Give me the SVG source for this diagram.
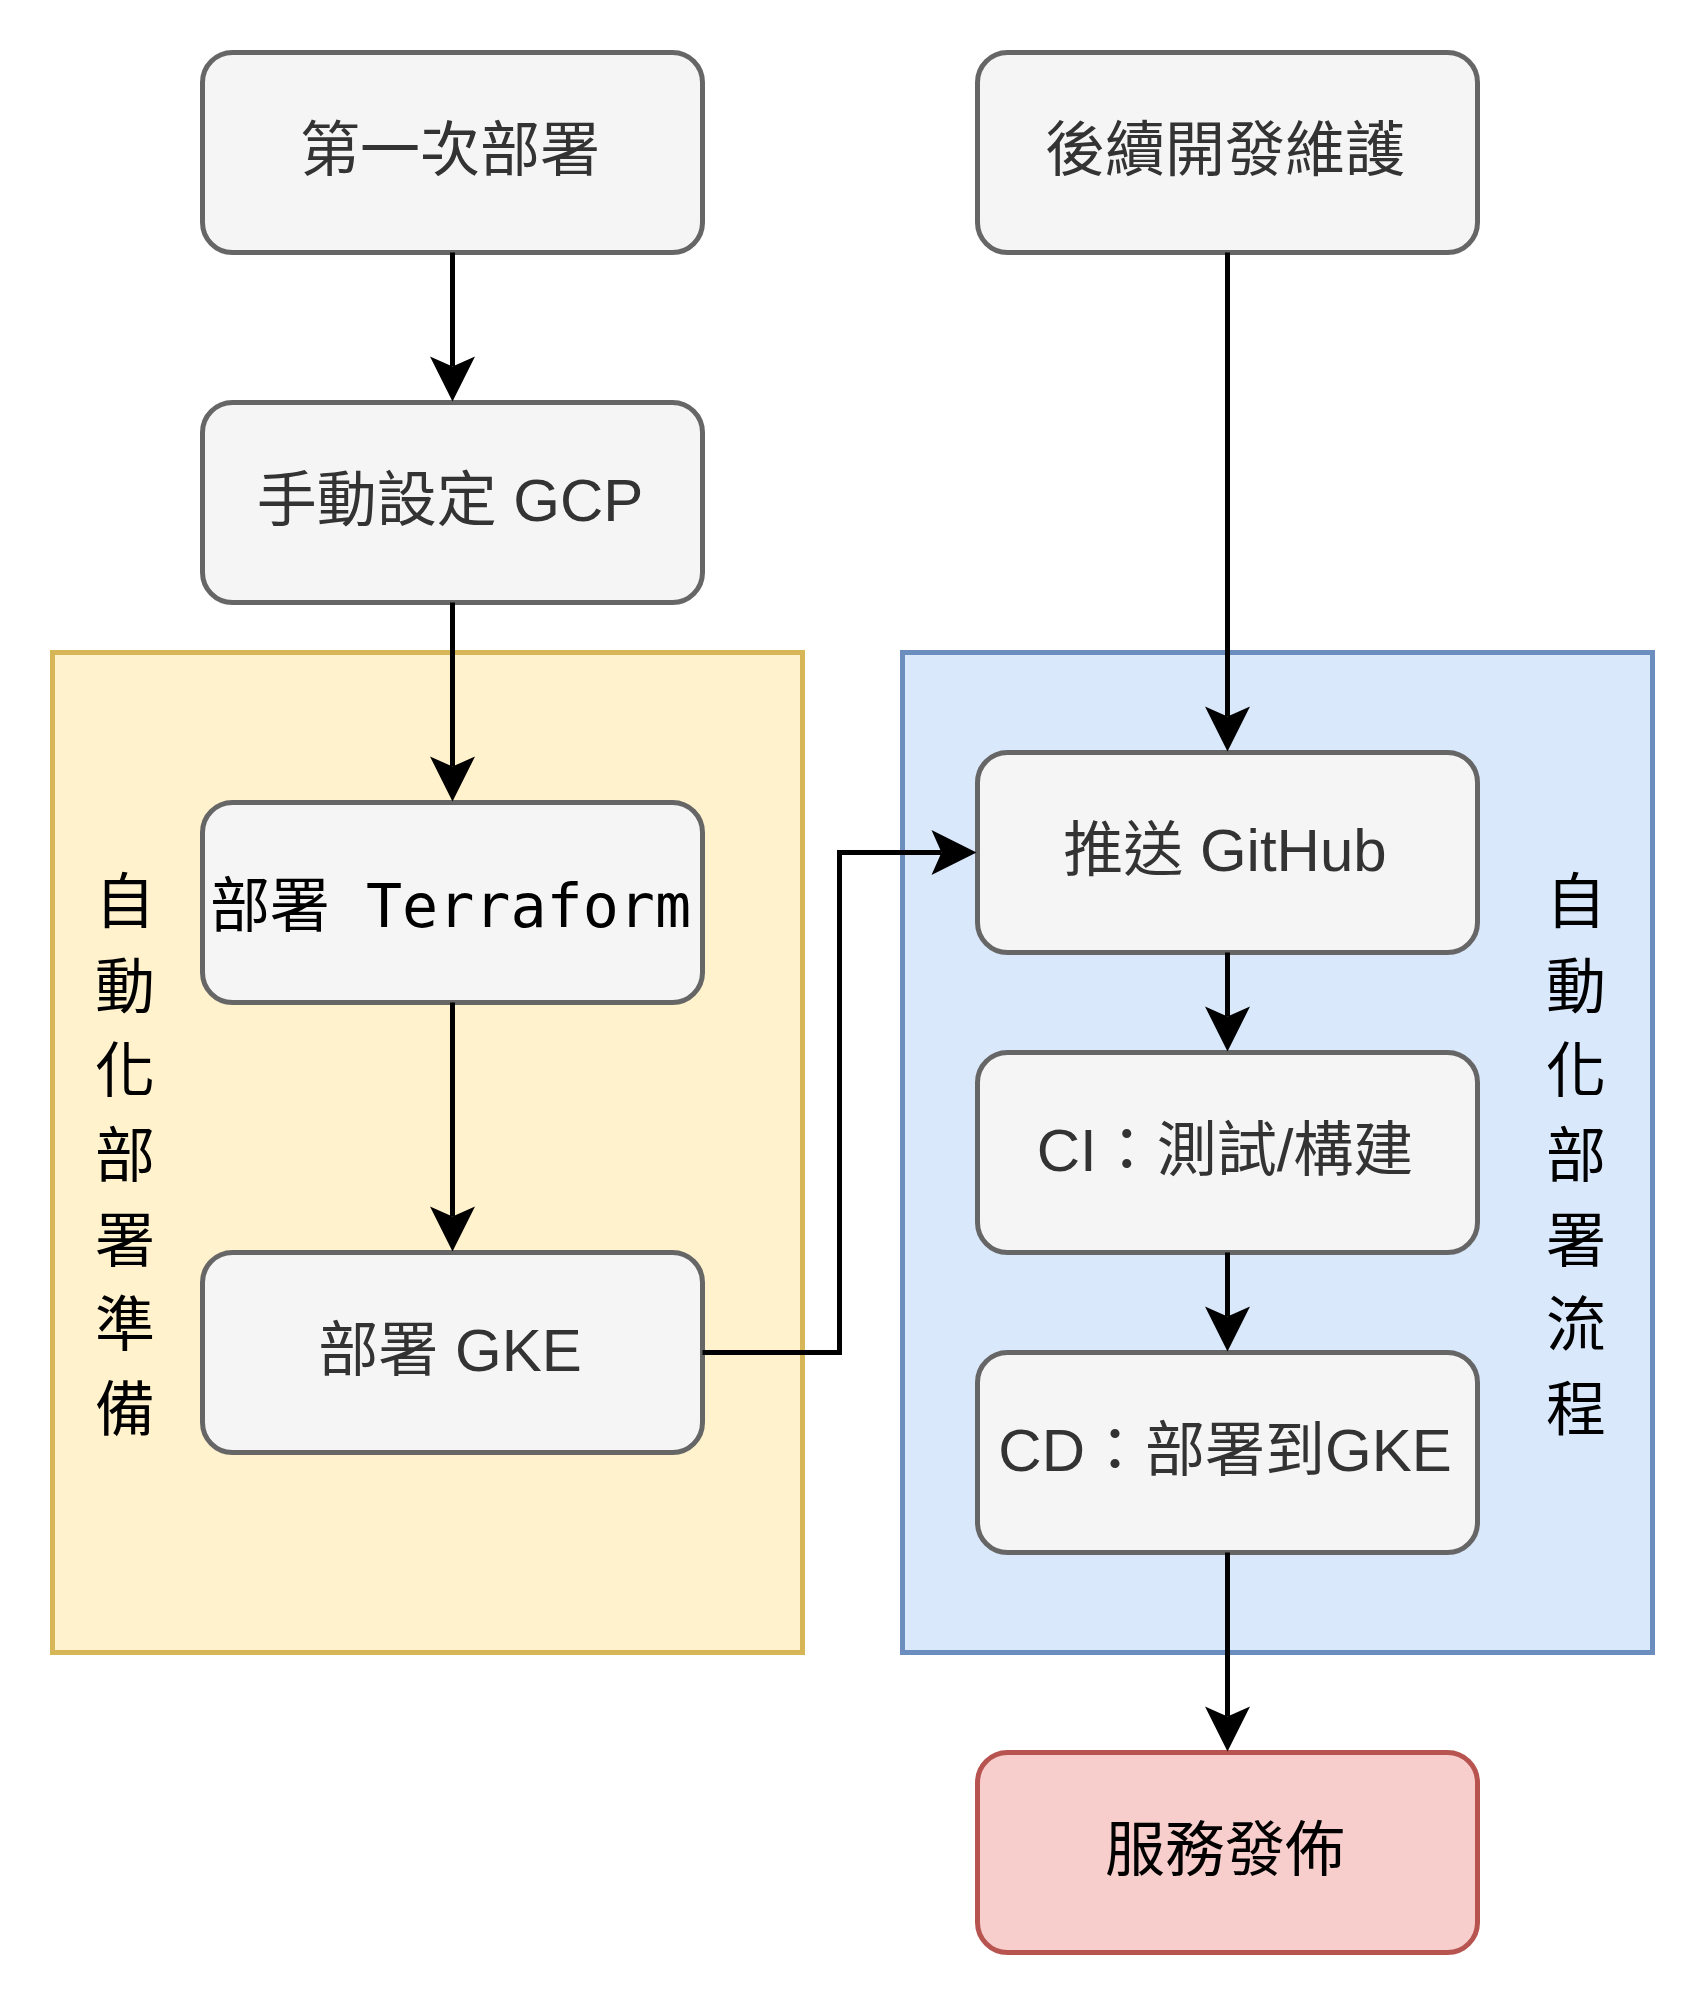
<svg xmlns="http://www.w3.org/2000/svg" width="1705" height="2005" viewBox="0 0 1705 2005">
  <defs>
    <style>
      .gray { fill: #f5f5f5; stroke: #666666; stroke-width: 5; }
      .red { fill: #f8cecc; stroke: #b85450; stroke-width: 5; }
      .yellow { fill: #fff2cc; stroke: #d6b656; stroke-width: 5; }
      .blue { fill: #dae8fc; stroke: #6c8ebf; stroke-width: 5; }
      .lbl { font-family: "Liberation Sans", "Noto Sans CJK TC", sans-serif; font-size: 60px; fill: #333333; text-anchor: middle; }
      .lblk { font-family: "Liberation Sans", "Noto Sans CJK TC", sans-serif; font-size: 60px; fill: #000000; text-anchor: middle; }
      .mono { font-family: "DejaVu Sans Mono", "Noto Sans CJK TC", monospace; font-size: 60px; fill: #000000; text-anchor: middle; }
      .vert { font-family: "Noto Sans CJK TC", sans-serif; font-size: 60px; fill: #000000; text-anchor: middle; }
      .edge { fill: none; stroke: #000000; stroke-width: 5; marker-end: url(#arrow); }
    </style>
    <marker id="arrow" markerUnits="userSpaceOnUse" markerWidth="60" markerHeight="60" refX="0" refY="0" orient="auto" overflow="visible">
      <path d="M35,0 L-10,-22.5 L0,0 L-10,22.5 Z" fill="#000000"/>
    </marker>
  </defs>

  <g id="container-prep">
    <rect class="yellow" x="52.5" y="652.5" width="750" height="1000"/>
  </g>
  <g id="container-flow">
    <rect class="blue" x="902.5" y="652.5" width="750" height="1000"/>
  </g>

  <g id="label-prep">
    <text class="vert" x="125" y="923">自</text>
    <text class="vert" x="125" y="1007.7">動</text>
    <text class="vert" x="125" y="1092.3">化</text>
    <text class="vert" x="125" y="1177">部</text>
    <text class="vert" x="125" y="1261.7">署</text>
    <text class="vert" x="125" y="1346.3">準</text>
    <text class="vert" x="125" y="1431">備</text>
  </g>
  <g id="label-flow">
    <text class="vert" x="1576" y="923">自</text>
    <text class="vert" x="1576" y="1007.7">動</text>
    <text class="vert" x="1576" y="1092.3">化</text>
    <text class="vert" x="1576" y="1177">部</text>
    <text class="vert" x="1576" y="1261.7">署</text>
    <text class="vert" x="1576" y="1346.3">流</text>
    <text class="vert" x="1576" y="1431">程</text>
  </g>

  <g id="node-first">
    <rect class="gray" x="202.5" y="52.5" width="500" height="200" rx="30" ry="30"/>
    <text class="lbl" x="450" y="170.5">第一次部署</text>
  </g>
  <g id="node-gcp">
    <rect class="gray" x="202.5" y="402.5" width="500" height="200" rx="30" ry="30"/>
    <text class="lbl" x="450" y="520.5">手動設定 GCP</text>
  </g>
  <g id="node-terraform">
    <rect class="gray" x="202.5" y="802.5" width="500" height="200" rx="30" ry="30"/>
    <text class="mono" x="450.5" y="926.5">部署 Terraform</text>
  </g>
  <g id="node-gke">
    <rect class="gray" x="202.5" y="1252.5" width="500" height="200" rx="30" ry="30"/>
    <text class="lbl" x="450" y="1370.5">部署 GKE</text>
  </g>
  <g id="node-maintain">
    <rect class="gray" x="977.5" y="52.5" width="500" height="200" rx="30" ry="30"/>
    <text class="lbl" x="1225" y="170.5">後續開發維護</text>
  </g>
  <g id="node-github">
    <rect class="gray" x="977.5" y="752.5" width="500" height="200" rx="30" ry="30"/>
    <text class="lbl" x="1225" y="870.5">推送 GitHub</text>
  </g>
  <g id="node-ci">
    <rect class="gray" x="977.5" y="1052.5" width="500" height="200" rx="30" ry="30"/>
    <text class="lbl" x="1225" y="1170.5">CI：測試/構建</text>
  </g>
  <g id="node-cd">
    <rect class="gray" x="977.5" y="1352.5" width="500" height="200" rx="30" ry="30"/>
    <text class="lbl" x="1225" y="1470.5">CD：部署到GKE</text>
  </g>
  <g id="node-release">
    <rect class="red" x="977.5" y="1752.5" width="500" height="200" rx="30" ry="30"/>
    <text class="lblk" x="1225" y="1870.5">服務發佈</text>
  </g>

  <g id="connectors">
    <path class="edge" d="M452.5,252.5 V366.5"/>
    <path class="edge" d="M452.5,602.5 V766.5"/>
    <path class="edge" d="M452.5,1002.5 V1216.5"/>
    <path class="edge" d="M702.5,1352.5 H839.5 V852.5 H941.5"/>
    <path class="edge" d="M1227.5,252.5 V716.5"/>
    <path class="edge" d="M1227.5,952.5 V1016.5"/>
    <path class="edge" d="M1227.5,1252.5 V1316.5"/>
    <path class="edge" d="M1227.5,1552.5 V1716.5"/>
  </g>
</svg>
